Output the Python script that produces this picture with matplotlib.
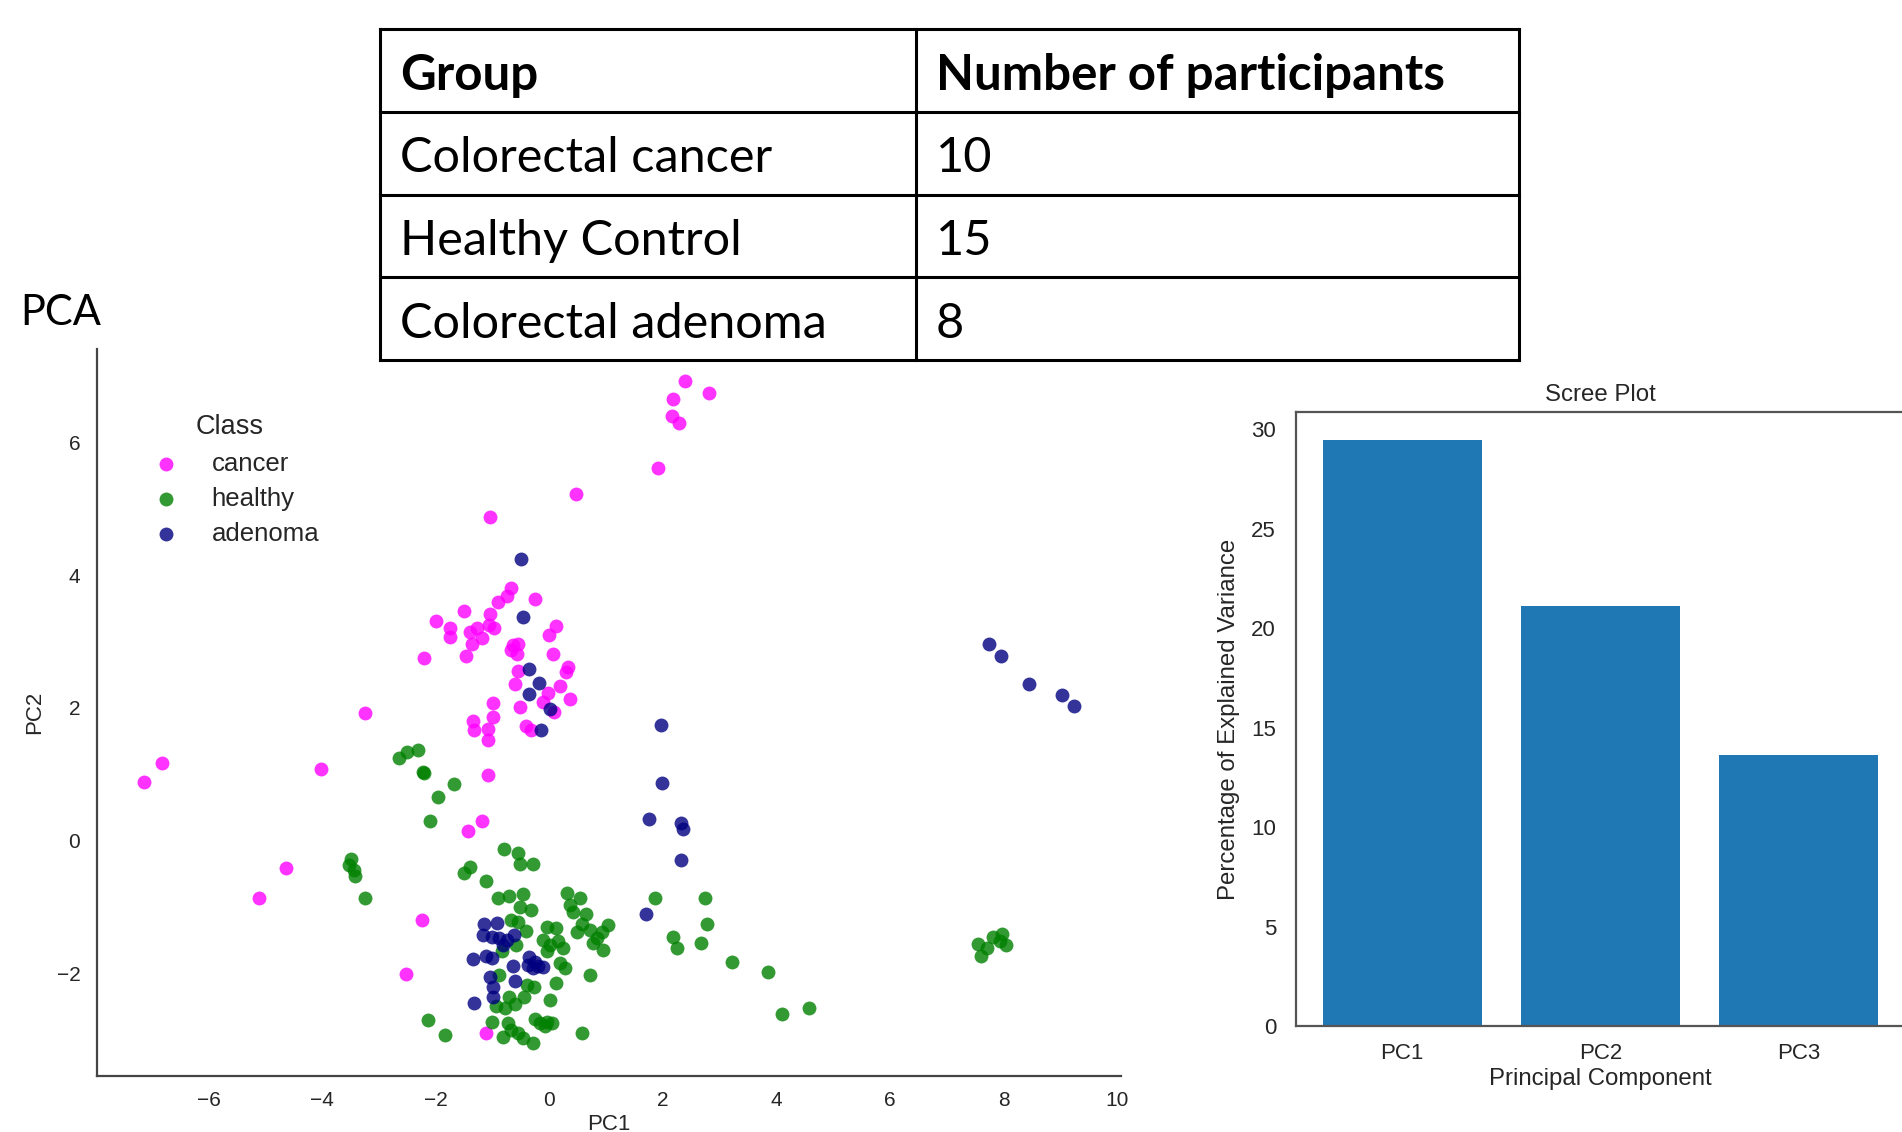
import matplotlib
matplotlib.use("Agg")
import matplotlib.pyplot as plt
import numpy as np

# ── Data ──────────────────────────────────────────────────────────────────────
table_header = ["Group", "Number of participants"]
table_groups = ["Colorectal cancer", "Healthy Control", "Colorectal adenoma"]
table_counts = [10, 15, 8]

classes = ["cancer", "healthy", "adenoma"]
class_colors = ["#ff00ff", "#008000", "#000080"]

cancer_x = [-0.68, -0.75, -0.90, -0.26, -1.50, -2.00, -1.75, -1.75, -1.04, -1.39,
            -1.27, -1.06, -0.98, -1.19, -1.37, -1.47, -2.21, -0.64, -0.67, -0.55,
            -0.57, 0.11, 0.00, 0.07, 0.32, 0.29, -0.55, -0.61, 0.18, -0.03,
            0.36, -0.12, -1.00, -0.51, 0.08, -1.35, -1.00, -1.33, -1.08, -1.08,
            -0.41, -0.33,
            2.39, 2.82, 2.18, 2.16, 2.29, 1.92, 0.47, -1.05, -3.25, -4.02,
            -6.82, -7.14, -1.08, -1.18, -1.43, -4.64, -5.11, -2.25, -2.52, -1.11]
cancer_y = [3.81, 3.69, 3.60, 3.64, 3.46, 3.31, 3.21, 3.07, 3.41, 3.15,
            3.20, 3.25, 3.21, 3.05, 2.96, 2.79, 2.76, 2.95, 2.87, 2.97,
            2.81, 3.23, 3.10, 2.82, 2.62, 2.54, 2.56, 2.36, 2.33, 2.23,
            2.13, 2.09, 2.08, 2.01, 1.94, 1.81, 1.87, 1.66, 1.68, 1.51,
            1.73, 1.66,
            6.93, 6.75, 6.65, 6.40, 6.29, 5.61, 5.23, 4.88, 1.92, 1.08,
            1.17, 0.88, 0.99, 0.30, 0.15, -0.42, -0.86, -1.19, -2.01, -2.90]

healthy_x = [-2.65, -2.50, -2.32, -2.23, -2.21, -1.68, -1.96, -2.10, -3.50, -3.53,
             -3.44, -3.43, -3.25, -1.39, -1.51, -1.11,
             1.86, 2.74, 2.78, 2.17, 2.25, 2.67, 3.21, 3.85, 4.10, 4.57,
             7.55, 7.60, 7.71, 7.81, 7.97, 7.94, 8.05,
             -0.80, -0.55, -0.51, -0.29, -0.90, -0.71, -0.46, -0.52, -0.33, 0.31,
             0.54, 0.36, 0.42, 0.64, 0.57, 0.48, 0.71, 1.04, 0.92, 0.83,
             0.77, 0.94, -0.67, -0.55, -0.41, -0.58, -0.84, -0.05, 0.11, -0.11,
             0.01, -0.05, 0.15, 0.24, 0.18, 0.27, 0.71, 0.11, 0.01, -0.88,
             -0.40, -0.27, -0.45, -0.71, -0.61, -0.78, -0.94, -1.02, -0.73, -0.67,
             -0.81, -0.55, -0.47, -0.29, -0.26, -0.17, -0.05, 0.04, -0.08, 0.57,
             -1.84, -2.13]
healthy_y = [1.25, 1.33, 1.37, 1.04, 1.02, 0.85, 0.66, 0.30, -0.28, -0.37,
             -0.45, -0.53, -0.87, -0.40, -0.49, -0.61,
             -0.87, -0.87, -1.25, -1.45, -1.62, -1.54, -1.83, -1.98, -2.61, -2.53,
             -1.56, -1.74, -1.62, -1.45, -1.40, -1.52, -1.57,
             -0.12, -0.19, -0.35, -0.35, -0.87, -0.83, -0.81, -1.00, -1.05, -0.79,
             -0.87, -0.97, -1.07, -1.10, -1.25, -1.37, -1.35, -1.27, -1.37, -1.47,
             -1.55, -1.65, -1.19, -1.22, -1.36, -1.57, -1.67, -1.30, -1.32, -1.50,
             -1.57, -1.67, -1.52, -1.62, -1.85, -1.92, -2.03, -2.14, -2.40, -2.03,
             -2.18, -2.20, -2.35, -2.36, -2.46, -2.53, -2.49, -2.73, -2.75, -2.85,
             -2.96, -2.90, -2.98, -3.05, -2.69, -2.75, -2.73, -2.75, -2.80, -2.90,
             -2.93, -2.70]

adenoma_x = [-0.50, -0.46, -0.36, -0.18, -0.36, 0.01, -0.14,
             1.96, 1.99, 1.75, 2.32, 2.36, 2.32, 1.71,
             7.74, 7.95, 8.45, 9.03, 9.24,
             -1.15, -0.93, -1.17, -1.02, -0.88, -0.75, -0.62, -0.81, -1.35, -1.12,
             -1.02, -0.64, -0.36, -0.37, -0.26, -0.20, -0.11, -0.29, -1.04, -0.61,
             -1.00, -1.00, -1.32]
adenoma_y = [4.24, 3.37, 2.59, 2.38, 2.21, 1.98, 1.66,
             1.74, 0.87, 0.32, 0.27, 0.17, -0.29, -1.10,
             2.96, 2.79, 2.36, 2.20, 2.03,
             -1.26, -1.24, -1.42, -1.45, -1.47, -1.50, -1.42, -1.57, -1.79, -1.74,
             -1.77, -1.89, -1.75, -1.87, -1.83, -1.89, -1.91, -1.92, -2.06, -2.11,
             -2.21, -2.36, -2.44]

components = ["PC1", "PC2", "PC3"]
explained_var = [29.45, 21.1, 13.6]

# ── Figure ────────────────────────────────────────────────────────────────────
W, H = 1902, 1132
fig = plt.figure(figsize=(W / 100, H / 100), dpi=100)
TEXT = "#262626"
plt.rcParams["font.family"] = ["Liberation Sans", "DejaVu Sans"]

def px_axes(left, top, right, bottom):
    return fig.add_axes([left / W, 1 - bottom / H, (right - left) / W, (bottom - top) / H])

# ── PCA scatter ───────────────────────────────────────────────────────────────
ax = px_axes(97, 349, 1121, 1075.5)
ax.patch.set_visible(False)
for name, col, xs, ys in zip(classes, class_colors,
                             [cancer_x, healthy_x, adenoma_x],
                             [cancer_y, healthy_y, adenoma_y]):
    ax.scatter(xs, ys, s=100, color=col, alpha=0.8, linewidths=0, label=name)
ax.set_xlim(-7.97, 10.07)
ax.set_ylim(-3.54, 7.41)
xt = [-6, -4, -2, 0, 2, 4, 6, 8, 10]
yt = [-2, 0, 2, 4, 6]
ax.set_xticks(xt)
ax.set_yticks(yt)
ax.set_xticklabels([str(v).replace("-", "\u2212") for v in xt])
ax.set_yticklabels([str(v).replace("-", "\u2212") for v in yt])
for side in ["top", "right"]:
    ax.spines[side].set_visible(False)
for side in ["left", "bottom"]:
    ax.spines[side].set_color("#444444")
    ax.spines[side].set_linewidth(1.6)
ax.tick_params(axis="both", length=0, labelsize=15, colors=TEXT)
ax.tick_params(axis="x", pad=11)
ax.tick_params(axis="y", pad=12)
ax.set_xlabel("PC1", fontsize=16, color=TEXT, labelpad=3)
ax.set_ylabel("PC2", fontsize=16, color=TEXT, labelpad=8)
leg = ax.legend(title="Class", loc="upper left", bbox_to_anchor=(0.032, 0.924),
                borderaxespad=0, frameon=False, fontsize=18.5, title_fontsize=19.5,
                handletextpad=0.78, labelspacing=0.43, scatterpoints=1)
for t in leg.get_texts():
    t.set_color(TEXT)
leg.get_title().set_color(TEXT)

# ── Table (drawn above the scatter axes) ──────────────────────────────────────
tx0, ty0, tx1, ty1 = 380, 29, 1519, 360
ax_t = px_axes(tx0, ty0, tx1, ty1)
ax_t.set_zorder(5)
tw, th = tx1 - tx0, ty1 - ty0
ax_t.set_xlim(0, tw)
ax_t.set_ylim(th, 0)
ax_t.axis("off")
col_split = 536
row_h = th / 4
lw_tab = 2.2
for i in range(5):
    ax_t.plot([0, tw], [i * row_h, i * row_h], color="black", lw=lw_tab,
              clip_on=False, solid_capstyle="projecting")
for xv in [0, col_split, tw]:
    ax_t.plot([xv, xv], [0, th], color="black", lw=lw_tab, clip_on=False)

rows = [table_header] + [[g, str(c)] for g, c in zip(table_groups, table_counts)]
for r, (c1, c2) in enumerate(rows):
    yc = (r + 0.5) * row_h + 5
    if r == 0:
        kw = dict(fontweight="bold", fontsize=35.5)
    else:
        kw = dict(fontweight="normal", fontsize=35)
    ax_t.text(20, yc, c1, family=["Lato", "DejaVu Sans"], color="black", va="center", **kw)
    ax_t.text(col_split + 20, yc, c2, family=["Lato", "DejaVu Sans"], color="black",
              va="center", **kw)

fig.text(20 / W, 1 - 313 / H, "PCA", family=["Lato", "DejaVu Sans"], fontsize=30,
         va="center", ha="left", color="black")

# ── Scree plot ────────────────────────────────────────────────────────────────
ax2 = px_axes(1295.5, 412, 1905.5, 1026)
ax2.bar(components, explained_var, color="#1f77b4", width=0.8)
ax2.set_xlim(-0.538, 2.538)
ax2.set_ylim(0, 30.87)
ax2.set_yticks([0, 5, 10, 15, 20, 25, 30])
for side in ax2.spines:
    ax2.spines[side].set_color("#555555")
    ax2.spines[side].set_linewidth(1.6)
ax2.tick_params(axis="both", length=0, labelsize=16, colors=TEXT)
ax2.tick_params(axis="x", pad=12)
ax2.tick_params(axis="y", pad=14)
ax2.set_title("Scree Plot", fontsize=17.3, color=TEXT, pad=8)
ax2.set_xlabel("Principal Component", fontsize=17.3, color=TEXT, labelpad=3)
ax2.set_ylabel("Percentage of Explained Variance", fontsize=17.3, color=TEXT, labelpad=8)

fig.savefig("out.png", dpi=100)
